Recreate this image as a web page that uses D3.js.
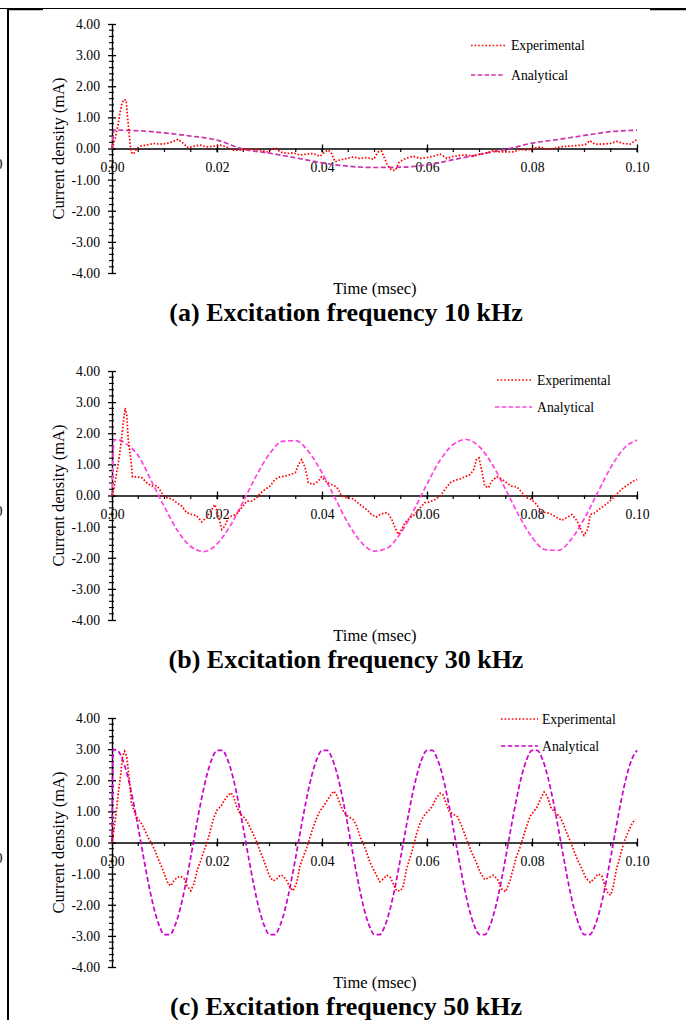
<!DOCTYPE html>
<html>
<head>
<meta charset="utf-8">
<script src="https://cdn.jsdelivr.net/npm/d3@7"></script>
<style>
  html, body { margin: 0; padding: 0; background: #fff; }
  svg { display: block; font-family: "Liberation Serif", "Times New Roman", serif; }
</style>
</head>
<body>
<svg id="chart" width="686" height="1020"></svg>
<script>
// ---- axis ticks and labels ----
const xTickValues = [0, 0.02, 0.04, 0.06, 0.08, 0.10];
const xTickLabels = ["0.00", "0.02", "0.04", "0.06", "0.08", "0.10"];
const yTickValues = [4, 3, 2, 1, 0, -1, -2, -3, -4];
const yTickLabels = ["4.00", "3.00", "2.00", "1.00", "0.00", "-1.00", "-2.00", "-3.00", "-4.00"];
const seriesNames = ["Experimental", "Analytical"];
const xTitle = "Time (msec)";
const yTitle = "Current density (mA)";
const captions = [
  "(a) Excitation frequency 10 kHz",
  "(b) Excitation frequency 30 kHz",
  "(c) Excitation frequency 50 kHz"
];

// ---- 10 kHz: [time (msec), current density (mA)] ----
const exp10 = [[0,0],[0.0006,0.32],[0.0012,0.80],[0.0015,1.12],[0.0018,1.39],[0.0022,1.57],[0.0027,1.55],[0.0029,1.12],[0.0032,0.59],[0.0036,-0.11],[0.0041,-0.18],[0.0047,0],[0.0053,0.07],[0.0066,0.11],[0.0079,0.16],[0.0091,0.14],[0.0104,0.16],[0.0117,0.23],[0.0126,0.30],[0.0136,0.16],[0.0145,0.02],[0.0155,0.07],[0.0168,0.11],[0.018,0.05],[0.0193,0.07],[0.0206,0.11],[0.0218,0.05],[0.0231,-0.05],[0.0244,-0.05],[0.0257,-0.02],[0.0269,-0.03],[0.0282,-0.05],[0.0295,-0.11],[0.0307,0],[0.0314,0],[0.032,-0.11],[0.0333,-0.16],[0.0345,-0.14],[0.0358,-0.21],[0.0371,-0.18],[0.0383,-0.16],[0.0396,-0.25],[0.0406,-0.11],[0.0412,-0.05],[0.0418,-0.16],[0.0425,-0.43],[0.0434,-0.37],[0.0447,-0.32],[0.046,-0.27],[0.0472,-0.32],[0.0485,-0.29],[0.0498,-0.35],[0.0507,-0.11],[0.0513,-0.08],[0.0519,-0.30],[0.0525,-0.55],[0.0533,-0.70],[0.054,-0.70],[0.0546,-0.46],[0.0555,-0.35],[0.0568,-0.27],[0.0574,-0.25],[0.0587,-0.32],[0.06,-0.29],[0.0612,-0.25],[0.0625,-0.18],[0.0638,-0.32],[0.065,-0.25],[0.0663,-0.22],[0.0676,-0.21],[0.0688,-0.25],[0.0701,-0.18],[0.0714,-0.14],[0.0726,-0.07],[0.0739,-0.11],[0.0752,-0.11],[0.0765,-0.11],[0.0777,-0.03],[0.079,-0.05],[0.0803,0],[0.0815,0.05],[0.0828,-0.03],[0.0841,0],[0.0853,0.05],[0.0866,0.07],[0.0879,0.09],[0.0891,0.10],[0.0901,0.12],[0.091,0.25],[0.092,0.14],[0.0933,0.14],[0.0949,0.16],[0.0962,0.23],[0.0974,0.16],[0.0987,0.14],[0.1,0.29]];
const ana10 = [[0,0],[0.0004,0.59],[0.005,0.57],[0.01,0.50],[0.015,0.40],[0.02,0.27],[0.025,-0.02],[0.03,-0.15],[0.035,-0.30],[0.04,-0.46],[0.045,-0.57],[0.05,-0.61],[0.055,-0.60],[0.06,-0.53],[0.065,-0.36],[0.07,-0.19],[0.075,-0.03],[0.08,0.17],[0.085,0.29],[0.09,0.42],[0.095,0.54],[0.1,0.59]];

// ---- 30 kHz ----
const exp30 = [[0,0],[0.0004,0.25],[0.0009,0.73],[0.0014,1.26],[0.0018,1.79],[0.0022,2.43],[0.0025,2.81],[0.0028,2.59],[0.0031,1.79],[0.0036,1.15],[0.0039,0.60],[0.0047,0.60],[0.0057,0.57],[0.0066,0.41],[0.0076,0.30],[0.0085,0.32],[0.0091,0.19],[0.0098,0],[0.0104,-0.07],[0.0114,-0.11],[0.0123,-0.23],[0.0133,-0.34],[0.0142,-0.55],[0.0152,-0.61],[0.0161,-0.64],[0.0171,-0.85],[0.018,-0.71],[0.019,-0.45],[0.0196,-0.29],[0.0203,-0.66],[0.0209,-1.09],[0.0215,-0.98],[0.0222,-0.71],[0.0228,-0.66],[0.0237,-0.61],[0.0247,-0.39],[0.0257,-0.18],[0.0266,-0.18],[0.0276,-0.07],[0.0282,0.06],[0.0291,0.19],[0.0301,0.30],[0.031,0.51],[0.032,0.60],[0.0329,0.62],[0.0339,0.67],[0.0349,0.73],[0.0355,0.99],[0.0361,1.15],[0.0368,0.89],[0.0374,0.41],[0.0383,0.35],[0.0393,0.46],[0.0399,0.60],[0.0409,0.43],[0.0418,0.35],[0.0425,0.30],[0.0431,0.21],[0.0437,-0.02],[0.0447,-0.07],[0.046,-0.11],[0.0472,-0.29],[0.0485,-0.45],[0.0495,-0.62],[0.0503,-0.69],[0.051,-0.62],[0.052,-0.55],[0.0526,-0.58],[0.0533,-0.77],[0.0539,-1.03],[0.0545,-1.25],[0.0552,-1.09],[0.0558,-0.87],[0.0568,-0.71],[0.0577,-0.61],[0.0587,-0.39],[0.0596,-0.23],[0.0606,-0.21],[0.0615,-0.13],[0.0625,-0.02],[0.0634,0.19],[0.0644,0.41],[0.0653,0.49],[0.0663,0.53],[0.0672,0.60],[0.0682,0.67],[0.0689,0.83],[0.0694,1.15],[0.0699,1.21],[0.0704,0.83],[0.071,0.30],[0.0717,0.25],[0.0723,0.46],[0.0733,0.60],[0.0742,0.53],[0.0752,0.41],[0.0761,0.30],[0.0771,0.28],[0.078,0.11],[0.079,-0.07],[0.0799,-0.13],[0.0809,-0.29],[0.0818,-0.53],[0.0828,-0.55],[0.0838,-0.61],[0.0847,-0.71],[0.0857,-0.80],[0.0866,-0.71],[0.0876,-0.61],[0.0886,-0.82],[0.0893,-1.09],[0.0899,-1.28],[0.0906,-1.09],[0.0911,-0.61],[0.0918,-0.58],[0.0926,-0.47],[0.0936,-0.34],[0.0945,-0.23],[0.0955,-0.07],[0.0964,0.09],[0.0974,0.25],[0.0983,0.35],[0.0993,0.46],[0.1,0.51]];
const ana30 = [[0,0],[0.0004,1.79],[0.0015,1.78],[0.0025,1.68],[0.005,1.28],[0.0075,0.47],[0.01,-0.37],[0.0125,-1.13],[0.015,-1.64],[0.0175,-1.80],[0.02,-1.56],[0.0225,-0.98],[0.025,-0.19],[0.0275,0.64],[0.03,1.34],[0.0325,1.74],[0.035,1.76],[0.0375,1.40],[0.04,0.73],[0.0425,-0.09],[0.045,-0.90],[0.0475,-1.51],[0.05,-1.79],[0.0525,-1.68],[0.055,-1.20],[0.0575,-0.47],[0.06,0.37],[0.0625,1.13],[0.065,1.64],[0.0675,1.80],[0.07,1.56],[0.0725,0.98],[0.075,0.19],[0.0775,-0.64],[0.08,-1.34],[0.0825,-1.74],[0.085,-1.76],[0.0875,-1.40],[0.09,-0.73],[0.0925,0.09],[0.095,0.90],[0.0975,1.51],[0.1,1.78]];

// ---- 50 kHz ----
const exp50 = [[0,0],[0.0003,0.32],[0.0008,0.96],[0.0012,1.60],[0.0017,2.24],[0.002,2.77],[0.0024,2.93],[0.0028,2.77],[0.0033,2.03],[0.0037,1.28],[0.0044,0.91],[0.005,0.75],[0.0057,0.59],[0.0063,0.37],[0.0069,0.16],[0.0076,-0.05],[0.0082,-0.27],[0.0088,-0.53],[0.0095,-0.80],[0.0101,-1.07],[0.0107,-1.33],[0.0112,-1.39],[0.0118,-1.23],[0.0124,-1.12],[0.0131,-1.09],[0.0137,-1.15],[0.0143,-1.39],[0.015,-1.55],[0.0156,-1.33],[0.0163,-0.85],[0.0169,-0.59],[0.0175,-0.27],[0.0182,0.05],[0.0188,0.43],[0.0194,0.80],[0.0201,1.07],[0.0207,1.15],[0.0213,1.33],[0.022,1.49],[0.0226,1.60],[0.0231,1.51],[0.0237,1.17],[0.0244,0.91],[0.025,0.83],[0.0257,0.69],[0.0263,0.48],[0.0269,0.27],[0.0276,0],[0.0282,-0.27],[0.0288,-0.53],[0.0295,-0.85],[0.0301,-1.12],[0.0307,-1.23],[0.0314,-1.17],[0.032,-1.05],[0.0326,-1.07],[0.0333,-1.23],[0.0339,-1.44],[0.0345,-1.55],[0.0352,-1.28],[0.0358,-0.75],[0.0364,-0.48],[0.0371,-0.16],[0.0377,0.16],[0.0383,0.48],[0.039,0.80],[0.0396,1.01],[0.0403,1.17],[0.0409,1.33],[0.0415,1.49],[0.0423,1.65],[0.0429,1.49],[0.0436,1.17],[0.0442,0.96],[0.045,0.83],[0.046,0.73],[0.0466,0.53],[0.0472,0.21],[0.0479,-0.05],[0.0485,-0.32],[0.0491,-0.62],[0.0501,-0.96],[0.051,-1.26],[0.0517,-1.17],[0.0523,-1.05],[0.053,-1.12],[0.0536,-1.33],[0.0542,-1.55],[0.055,-1.55],[0.0555,-1.39],[0.0561,-0.85],[0.0568,-0.48],[0.0574,-0.11],[0.058,0.27],[0.0587,0.64],[0.0593,0.83],[0.0599,0.96],[0.0606,1.07],[0.0612,1.23],[0.0618,1.44],[0.0625,1.58],[0.063,1.55],[0.0636,1.28],[0.0642,1.01],[0.065,0.91],[0.0658,0.83],[0.0666,0.53],[0.0673,0.21],[0.0679,-0.05],[0.0685,-0.32],[0.0694,-0.64],[0.0701,-0.96],[0.071,-1.19],[0.0719,-1.12],[0.0726,-1.05],[0.0734,-1.17],[0.0742,-1.49],[0.075,-1.58],[0.0758,-1.23],[0.0764,-0.85],[0.077,-0.48],[0.0777,-0.16],[0.0783,0.16],[0.079,0.53],[0.0796,0.83],[0.0804,1.01],[0.081,1.15],[0.0816,1.39],[0.0823,1.62],[0.0829,1.49],[0.0836,1.12],[0.0844,0.96],[0.0853,0.83],[0.086,0.59],[0.0867,0.27],[0.0874,0],[0.088,-0.27],[0.0886,-0.53],[0.0895,-0.85],[0.0903,-1.15],[0.0911,-1.28],[0.0918,-1.17],[0.0926,-1.01],[0.0933,-1.07],[0.0939,-1.39],[0.0945,-1.65],[0.095,-1.69],[0.0955,-1.39],[0.0961,-0.85],[0.0968,-0.43],[0.0975,0],[0.0984,0.37],[0.099,0.59],[0.0996,0.75]];
const ana50 = [[0,0],[0.0002,2.99],[0.001,2.96],[0.002,2.67],[0.003,2.12],[0.004,1.36],[0.005,0.47],[0.006,-0.47],[0.007,-1.36],[0.008,-2.12],[0.009,-2.67],[0.010,-2.96],[0.011,-2.96],[0.012,-2.67],[0.013,-2.12],[0.014,-1.36],[0.015,-0.47],[0.016,0.47],[0.017,1.36],[0.018,2.12],[0.019,2.67],[0.020,2.96],[0.021,2.96],[0.022,2.67],[0.023,2.12],[0.024,1.36],[0.025,0.47],[0.026,-0.47],[0.027,-1.36],[0.028,-2.12],[0.029,-2.67],[0.030,-2.96],[0.031,-2.96],[0.032,-2.67],[0.033,-2.12],[0.034,-1.36],[0.035,-0.47],[0.036,0.47],[0.037,1.36],[0.038,2.12],[0.039,2.67],[0.040,2.96],[0.041,2.96],[0.042,2.67],[0.043,2.12],[0.044,1.36],[0.045,0.47],[0.046,-0.47],[0.047,-1.36],[0.048,-2.12],[0.049,-2.67],[0.050,-2.96],[0.051,-2.96],[0.052,-2.67],[0.053,-2.12],[0.054,-1.36],[0.055,-0.47],[0.056,0.47],[0.057,1.36],[0.058,2.12],[0.059,2.67],[0.060,2.96],[0.061,2.96],[0.062,2.67],[0.063,2.12],[0.064,1.36],[0.065,0.47],[0.066,-0.47],[0.067,-1.36],[0.068,-2.12],[0.069,-2.67],[0.070,-2.96],[0.071,-2.96],[0.072,-2.67],[0.073,-2.12],[0.074,-1.36],[0.075,-0.47],[0.076,0.47],[0.077,1.36],[0.078,2.12],[0.079,2.67],[0.080,2.96],[0.081,2.96],[0.082,2.67],[0.083,2.12],[0.084,1.36],[0.085,0.47],[0.086,-0.47],[0.087,-1.36],[0.088,-2.12],[0.089,-2.67],[0.090,-2.96],[0.091,-2.96],[0.092,-2.67],[0.093,-2.12],[0.094,-1.36],[0.095,-0.47],[0.096,0.47],[0.097,1.36],[0.098,2.12],[0.099,2.67],[0.100,2.96]];

// ---- layout of the three stacked plots ----
const W = 686, H = 1020;
const plotLeft = 112, plotRight = 637, plotHeight = 249;
const panels = [
  { exp: exp10, ana: ana10, caption: captions[0], top: 24,  anaColor: "#cc33aa",
    legend: { expX: [471, 505], anaX: [471, 505], ys: [45.5, 75], textX: 511 } },
  { exp: exp30, ana: ana30, caption: captions[1], top: 371, anaColor: "#ff44dd",
    legend: { expX: [497, 531], anaX: [495, 532], ys: [380, 407], textX: 537 } },
  { exp: exp50, ana: ana50, caption: captions[2], top: 718, anaColor: "#cc00cc",
    legend: { expX: [501, 538], anaX: [501, 538], ys: [719, 746], textX: 542 } }
];

const svg = d3.select("#chart");

// page frame lines
svg.append("line").attr("x1", 0).attr("x2", W).attr("y1", 8.5).attr("y2", 8.5)
  .attr("stroke", "#000").attr("stroke-width", 1);
svg.append("line").attr("x1", 8).attr("x2", 43).attr("y1", 9.5).attr("y2", 9.5)
  .attr("stroke", "#000").attr("stroke-width", 1.5);
svg.append("line").attr("x1", 650).attr("x2", W).attr("y1", 9.5).attr("y2", 9.5)
  .attr("stroke", "#000").attr("stroke-width", 1.5);
svg.append("line").attr("x1", 8).attr("x2", 8).attr("y1", 9).attr("y2", H)
  .attr("stroke", "#000").attr("stroke-width", 2);

const x = d3.scaleLinear().domain([0, 0.1]).range([plotLeft, plotRight]);
const xMinor = d3.range(0.005, 0.1001, 0.005);
const yMinor = d3.range(-4, 4.001, 0.2).filter(v => Math.abs(v - Math.round(v)) > 0.01);

panels.forEach(p => {
  const y = d3.scaleLinear().domain([-4, 4]).range([p.top + plotHeight, p.top]);
  const g = svg.append("g");
  const y0 = y(0);

  // cut-off character at the left page edge
  g.append("text").attr("x", -4.5).attr("y", y0 + 20)
    .attr("font-size", 14).attr("fill", "#000").text("0");

  // minor ticks
  g.append("g").selectAll("line").data(xMinor).join("line")
    .attr("x1", d => x(d)).attr("x2", d => x(d))
    .attr("y1", y0).attr("y2", y0 + 3.5)
    .attr("stroke", "#000").attr("stroke-width", 1.2);
  g.append("g").selectAll("line").data(yMinor).join("line")
    .attr("x1", plotLeft - 3).attr("x2", plotLeft + 2)
    .attr("y1", d => y(d)).attr("y2", d => y(d))
    .attr("stroke", "#000").attr("stroke-width", 1.1);

  // y axis
  const yAxis = g.append("g").attr("transform", `translate(${plotLeft},0)`)
    .call(d3.axisLeft(y).tickValues(yTickValues)
      .tickFormat((d, i) => yTickLabels[i])
      .tickSizeInner(4).tickSizeOuter(0).tickPadding(8));
  yAxis.attr("font-family", null).attr("font-size", null);
  yAxis.select(".domain").attr("stroke-width", 1.4);
  yAxis.selectAll(".tick line").attr("x1", 4).attr("stroke-width", 1.3);
  yAxis.selectAll(".tick text").attr("font-size", 13.7).attr("fill", "#000");

  // x axis through zero
  const xAxis = g.append("g").attr("transform", `translate(0,${y0})`)
    .call(d3.axisBottom(x).tickValues(xTickValues)
      .tickFormat((d, i) => xTickLabels[i])
      .tickSizeInner(4).tickSizeOuter(0).tickPadding(10));
  xAxis.attr("font-family", null).attr("font-size", null);
  xAxis.select(".domain").attr("stroke-width", 1.4);
  xAxis.selectAll(".tick line").attr("y1", -4).attr("stroke-width", 1.3);
  xAxis.selectAll(".tick text").attr("font-size", 13.7).attr("fill", "#000");

  // series
  const lineExp = d3.line().x(d => x(d[0])).y(d => y(d[1])).curve(d3.curveLinear);
  const lineAna = d3.line().x(d => x(d[0])).y(d => y(d[1])).curve(d3.curveMonotoneX);

  g.append("path").datum(p.ana).attr("d", lineAna)
    .attr("fill", "none").attr("stroke", p.anaColor)
    .attr("stroke-width", 1.7).attr("stroke-dasharray", "5 2.6");
  g.append("path").datum(p.exp).attr("d", lineExp)
    .attr("fill", "none").attr("stroke", "#ff0000")
    .attr("stroke-width", 1.7).attr("stroke-dasharray", "1.6 1.8");

  // legend
  const L = p.legend;
  g.append("line").attr("x1", L.expX[0]).attr("x2", L.expX[1])
    .attr("y1", L.ys[0]).attr("y2", L.ys[0])
    .attr("stroke", "#ff0000").attr("stroke-width", 1.7).attr("stroke-dasharray", "1.6 2");
  g.append("line").attr("x1", L.anaX[0]).attr("x2", L.anaX[1])
    .attr("y1", L.ys[1]).attr("y2", L.ys[1])
    .attr("stroke", p.anaColor).attr("stroke-width", 1.7).attr("stroke-dasharray", "4.4 2.4");
  seriesNames.forEach((name, i) => {
    g.append("text").attr("x", L.textX).attr("y", L.ys[i] + 4.6)
      .attr("font-size", 13.7).attr("fill", "#000").text(name);
  });

  // axis titles
  g.append("text").attr("x", 375).attr("y", p.top + 269.5)
    .attr("text-anchor", "middle").attr("font-size", 16.5).attr("fill", "#000")
    .text(xTitle);
  g.append("text")
    .attr("transform", `translate(63.5,${p.top + plotHeight / 2}) rotate(-90)`)
    .attr("text-anchor", "middle").attr("font-size", 16.5).attr("fill", "#000")
    .text(yTitle);

  // caption
  g.append("text").attr("x", 346).attr("y", p.top + 297)
    .attr("text-anchor", "middle").attr("font-size", 26).attr("font-weight", "bold")
    .attr("fill", "#000").text(p.caption);
});
</script>
</body>
</html>
